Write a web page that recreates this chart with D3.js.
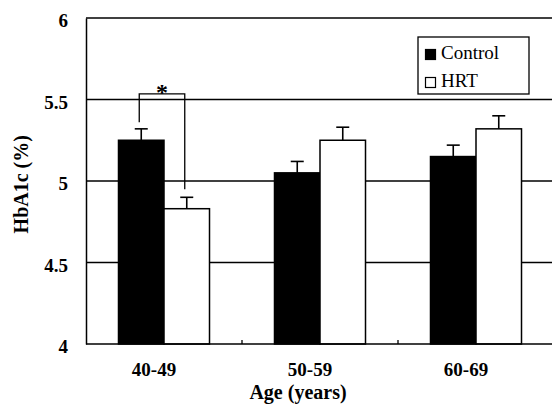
<!DOCTYPE html>
<html><head><meta charset="utf-8">
<script src="https://cdn.jsdelivr.net/npm/d3@7"></script>
<style>html,body{margin:0;padding:0;background:#fff;}svg{display:block;} svg text{font-family:"Liberation Serif","Times New Roman",Times,serif;}</style>
</head><body>
<svg id="chart" width="552" height="414"></svg>
<script>
const categories = ["40-49", "50-59", "60-69"];
const seriesNames = ["Control", "HRT"];
const controlMeans = [5.25, 5.05, 5.15];
const controlErr = [0.07, 0.07, 0.07];
const hrtMeans = [4.83, 5.25, 5.32];
const hrtErr = [0.07, 0.08, 0.08];
const yTicks = [4, 4.5, 5, 5.5, 6];

const data = categories.map((c, i) => ({
  cat: c,
  vals: [
    {s: "Control", v: controlMeans[i], e: controlErr[i]},
    {s: "HRT", v: hrtMeans[i], e: hrtErr[i]}
  ]
}));

const svg = d3.select("#chart");
const serif = "Liberation Serif, Times New Roman, serif";
const x0 = d3.scaleBand().domain(categories).range([86, 554]);
const x1 = d3.scaleBand().domain(seriesNames).range([0, x0.bandwidth()]).paddingInner(0).paddingOuter(0.714);
const y = d3.scaleLinear().domain([4, 6]).range([344, 18]);

// gridlines
svg.append("g").selectAll("line").data(yTicks.filter(t => t > 4))
  .join("line")
  .attr("x1", 86).attr("x2", 552)
  .attr("y1", d => y(d)).attr("y2", d => y(d))
  .attr("stroke", "#000").attr("stroke-width", d => d === 6 ? 1.6 : 1.3);

// y axis (labels only + line)
const yAxis = d3.axisLeft(y).tickValues(yTicks).tickSize(0).tickPadding(18).tickFormat(d3.format("~g"));
const ya = svg.append("g").attr("transform", "translate(86,0)").call(yAxis).attr("font-family", null);
ya.select(".domain").attr("stroke", "#000").attr("stroke-width", 1.5);
ya.selectAll("text").style("font-family", serif).attr("font-weight", "bold")
  .attr("font-size", 19).attr("fill", "#000").attr("dy", "0.45em");

// bars
const g = svg.append("g").selectAll("g").data(data).join("g")
  .attr("transform", d => `translate(${x0(d.cat)},0)`);
g.selectAll("rect").data(d => d.vals).join("rect")
  .attr("x", d => x1(d.s)).attr("width", x1.bandwidth())
  .attr("y", d => y(d.v)).attr("height", d => y(4) - y(d.v))
  .attr("fill", d => d.s === "Control" ? "#000" : "#fff")
  .attr("stroke", "#000").attr("stroke-width", 1.5);
// error bars
g.selectAll("line.err").data(d => d.vals).join("line").attr("class", "err")
  .attr("x1", d => x1(d.s) + x1.bandwidth() / 2).attr("x2", d => x1(d.s) + x1.bandwidth() / 2)
  .attr("y1", d => y(d.v)).attr("y2", d => y(d.v + d.e))
  .attr("stroke", "#000").attr("stroke-width", 1.6);
g.selectAll("line.cap").data(d => d.vals).join("line").attr("class", "cap")
  .attr("x1", d => x1(d.s) + x1.bandwidth() / 2 - 6.5).attr("x2", d => x1(d.s) + x1.bandwidth() / 2 + 6.5)
  .attr("y1", d => y(d.v + d.e)).attr("y2", d => y(d.v + d.e))
  .attr("stroke", "#000").attr("stroke-width", 1.6);

// x axis
const xAxis = d3.axisBottom(x0).tickSize(0).tickPadding(16);
const xa = svg.append("g").attr("transform", `translate(0,${y(4)})`).call(xAxis).attr("font-family", null);
xa.select(".domain").attr("stroke", "#000").attr("stroke-width", 1.5).attr("d", `M86,0H552`);
xa.selectAll("text").style("font-family", serif).attr("font-weight", "bold")
  .attr("font-size", 19).attr("fill", "#000").attr("dx", -10).attr("dy", "0.85em");
// small interior ticks at band boundaries
svg.append("g").selectAll("line").data(categories.slice(1)).join("line")
  .attr("x1", d => x0(d)).attr("x2", d => x0(d))
  .attr("y1", y(4)).attr("y2", y(4) - 4)
  .attr("stroke", "#000").attr("stroke-width", 1.3);

// significance bracket
const c0 = categories[0];
const bx1 = x0(c0) + x1("Control") + x1.bandwidth() / 2 - 2;
const bx2 = x0(c0) + x1("HRT") + x1.bandwidth() / 2 - 2;
const bTop = y(5.535);
svg.append("path")
  .attr("d", `M${bx1},${y(5.36)}V${bTop}H${bx2}V${y(4.95)}`)
  .attr("fill", "none").attr("stroke", "#000").attr("stroke-width", 1.3);
svg.append("text").attr("x", (bx1 + bx2) / 2).attr("y", bTop + 6)
  .attr("text-anchor", "middle").style("font-family", serif).attr("font-weight", "bold")
  .attr("font-size", 24).text("*");

// axis titles
svg.append("text").attr("transform", `translate(28,${y(4.98)}) rotate(-90)`)
  .attr("text-anchor", "middle").style("font-family", serif).attr("font-weight", "bold")
  .attr("font-size", 20).text("HbA1c (%)");
svg.append("text").attr("x", 298).attr("y", 399)
  .attr("text-anchor", "middle").style("font-family", serif).attr("font-weight", "bold")
  .attr("font-size", 20).text("Age (years)");

// legend
const lg = svg.append("g").attr("transform", "translate(418,37)");
lg.append("rect").attr("width", 111).attr("height", 57).attr("fill", "#fff")
  .attr("stroke", "#000").attr("stroke-width", 1.3);
seriesNames.forEach((s, i) => {
  lg.append("rect").attr("x", 7.5).attr("y", 12.5 + i * 28).attr("width", 10).attr("height", 10)
    .attr("fill", s === "Control" ? "#000" : "#fff").attr("stroke", "#000").attr("stroke-width", 1.2);
  lg.append("text").attr("x", 23).attr("y", 22 + i * 28)
    .style("font-family", serif).attr("font-size", 19).attr("fill", "#000").text(s);
});
</script>
</body></html>
